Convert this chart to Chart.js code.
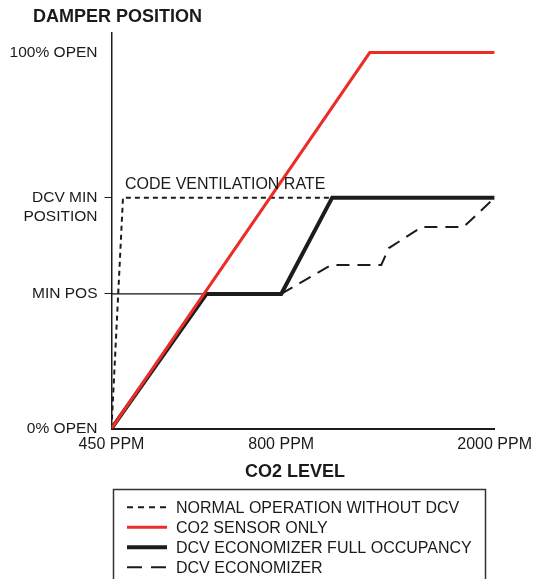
<!DOCTYPE html>
<html>
<head>
<meta charset="utf-8">
<title>Damper position vs CO2 level</title>
<script src="https://cdn.jsdelivr.net/npm/chart.js@4.4.1/dist/chart.umd.min.js"></script>
<style>
  html, body { margin: 0; padding: 0; background: #ffffff; }
  #wrap { position: relative; width: 538px; height: 579px; }
</style>
</head>
<body>
<div id="wrap"><canvas id="damperchart" width="538" height="579"></canvas></div>
<script>
// x axis runs 0..100 (450 PPM .. 2000 PPM, drawn non linear like the original sketch)
const xTickValues = [0, 44.3, 100];
const xTickLabels = ["450 PPM", "800 PPM", "2000 PPM"];

// y axis runs 0..100 (% open)
const yTickValues = [0, 35.8, 61.4, 100];
const yTickLabels = ["0% OPEN", "MIN POS", ["", "DCV MIN", "POSITION"], "100% OPEN"];

const seriesLabels = [
  "NORMAL OPERATION WITHOUT DCV",
  "CO2 SENSOR ONLY",
  "DCV ECONOMIZER FULL OCCUPANCY",
  "DCV ECONOMIZER",
];

const normalX = [0, 3, 57.6];
const normalY = [0, 61.4, 61.4];

const sensorX = [0, 67.4, 100];
const sensorY = [0, 100, 100];

const fullX = [0, 24.8, 44.3, 57.6, 100];
const fullY = [0, 35.8, 35.8, 61.4, 61.4];

const econX = [44.3, 57.3, 70.4, 72.4, 81.0, 91.9, 100];
const econY = [35.8, 43.5, 43.5, 48.0, 53.6, 53.6, 61.4];

// thin MIN POS guide line
const minPosX = [0, 24.8];
const minPosY = [35.8, 35.8];

const pts = (xs, ys) => xs.map((x, i) => ({ x: x, y: ys[i] }));

const FONT = '"Liberation Sans", Arial, Helvetica, sans-serif';
const INK = "#1a1a1a";

const textplugin = {
  id: "textplugin",
  afterDraw(chart) {
    const ctx = chart.ctx;
    const xs = chart.scales.x;
    const ys = chart.scales.y;
    ctx.save();
    ctx.fillStyle = INK;
    ctx.textBaseline = "middle";

    ctx.font = "bold 18px " + FONT;
    ctx.textAlign = "left";
    ctx.fillText("DAMPER POSITION", 33, 17);
    ctx.textAlign = "center";
    ctx.fillText("CO2 LEVEL", 295, 472);

    ctx.font = "16px " + FONT;
    ctx.textAlign = "left";
    ctx.fillText(
      "CODE VENTILATION RATE",
      xs.getPixelForValue(normalX[1]) + 2,
      ys.getPixelForValue(normalY[1]) - 13
    );

    // legend box
    ctx.strokeStyle = "#333333";
    ctx.lineWidth = 1.5;
    ctx.strokeRect(113.5, 489.5, 372, 120);

    chart.data.datasets.forEach((ds) => {
      if (ds.legendRow === undefined) return;
      const yy = 507.3 + ds.legendRow * 20;
      ctx.save();
      ctx.strokeStyle = ds.borderColor;
      ctx.lineWidth = ds.borderWidth;
      ctx.setLineDash(ds.legendDash || []);
      ctx.lineCap = "butt";
      ctx.beginPath();
      ctx.moveTo(127, yy);
      ctx.lineTo(167, yy);
      ctx.stroke();
      ctx.restore();
      ctx.fillText(ds.label, 176, yy + 1);
    });
    ctx.restore();
  },
};

const damperchart = document.getElementById("damperchart").getContext("2d");

new Chart(damperchart, {
  type: "line",
  data: {
    datasets: [
      {
        label: seriesLabels[1],
        legendRow: 1,
        data: pts(sensorX, sensorY),
        borderColor: "#ec2d27",
        borderWidth: 3,
        order: 1,
      },
      {
        label: seriesLabels[2],
        legendRow: 2,
        data: pts(fullX, fullY),
        borderColor: "#1c1c1c",
        borderWidth: 4,
        order: 2,
      },
      {
        label: seriesLabels[0],
        legendRow: 0,
        data: pts(normalX, normalY),
        borderColor: "#1c1c1c",
        borderWidth: 2,
        borderDash: [5, 4],
        legendDash: [6, 5],
        order: 3,
      },
      {
        label: seriesLabels[3],
        legendRow: 3,
        data: pts(econX, econY),
        borderColor: "#1c1c1c",
        borderWidth: 2,
        borderDash: [13, 8],
        legendDash: [15, 9],
        order: 4,
      },
      {
        label: "min pos guide",
        data: pts(minPosX, minPosY),
        borderColor: "#111111",
        borderWidth: 1.2,
        order: 5,
      },
    ],
  },
  options: {
    responsive: false,
    animation: false,
    events: [],
    layout: {
      padding: { left: 0, right: 42, top: 33, bottom: 120.5 },
    },
    elements: {
      point: { radius: 0 },
      line: { tension: 0, borderJoinStyle: "miter", fill: false },
    },
    plugins: {
      legend: { display: false },
      tooltip: { enabled: false },
      title: { display: false },
    },
    scales: {
      x: {
        type: "linear",
        min: 0,
        max: 100,
        afterBuildTicks: (scale) => {
          scale.ticks = xTickValues.map((v) => ({ value: v }));
        },
        afterFit: (scale) => {
          scale.height = 30;
        },
        grid: { display: false, drawTicks: false },
        border: { display: true, color: "#1c1c1c", width: 2 },
        ticks: {
          autoSkip: false,
          maxRotation: 0,
          padding: 6,
          color: INK,
          font: { family: FONT, size: 16 },
          callback: (value, i) => xTickLabels[i],
        },
      },
      y: {
        type: "linear",
        min: 0,
        max: 105.2,
        afterBuildTicks: (scale) => {
          scale.ticks = yTickValues.map((v) => ({ value: v }));
        },
        afterFit: (scale) => {
          scale.width = 111.5;
        },
        grid: {
          drawOnChartArea: false,
          drawTicks: true,
          tickLength: 7,
          color: (c) => (c.index === 1 || c.index === 2 ? "#1c1c1c" : "rgba(0,0,0,0)"),
          lineWidth: 1,
        },
        border: { display: true, color: "#1c1c1c", width: 1.5 },
        ticks: {
          autoSkip: false,
          padding: 7,
          color: INK,
          font: { family: FONT, size: 15.5, lineHeight: 1.25 },
          callback: (value, i) => yTickLabels[i],
        },
      },
    },
  },
  plugins: [textplugin],
});
</script>
</body>
</html>
